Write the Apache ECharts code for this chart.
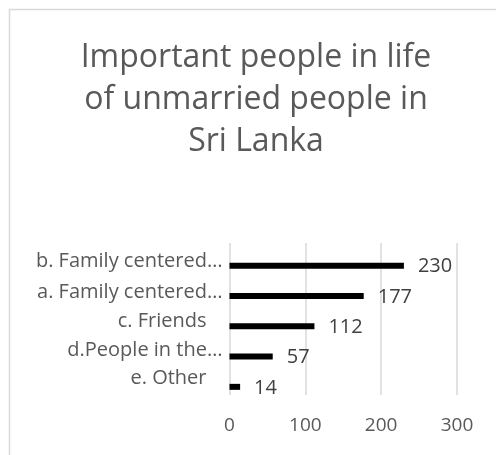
<!DOCTYPE html>
<html>
<head>
<meta charset="utf-8">
<script src="https://cdn.jsdelivr.net/npm/echarts@6/dist/echarts.min.js"></script>
<style>
  html, body { margin: 0; padding: 0; background: #ffffff; }
  #chart { width: 496px; height: 455px; }
</style>
</head>
<body>
<div id="chart"></div>
<script>
// Categories, top to bottom
const categories = [
  'b. Family centered…',
  'a. Family centered…',
  'c. Friends',
  'd.People in the…',
  'e. Other'
];
const counts = [230, 177, 112, 57, 14];
const xTicks = [0, 100, 200, 300];

const chart = echarts.init(document.getElementById('chart'), null, { renderer: 'canvas' });
const font = '"Open Sans", sans-serif';
const labelColor = '#595959';

// Per-row label styles: labels sit slightly above their bars, drifting more toward the bottom;
// untruncated names end a little further left.
const lift = [9, 8, 9, 13, 18];
const rich = {};
categories.forEach(function (c, i) {
  rich['r' + i] = {
    fontFamily: font,
    fontSize: 20,
    color: labelColor,
    padding: [0, c.endsWith('…') ? 0 : 16, lift[i], 0]
  };
});

const xRange = { min: xTicks[0], max: xTicks[xTicks.length - 1], interval: 100 };

chart.setOption({
  animation: false,
  backgroundColor: '#ffffff',
  title: {
    text: 'Important people in life\nof unmarried people in\nSri Lanka',
    left: 251,
    top: 32,
    textAlign: 'center',
    textStyle: {
      fontFamily: font,
      fontSize: 32,
      fontWeight: 'normal',
      color: labelColor,
      lineHeight: 42
    }
  },
  graphic: [{
    type: 'rect',
    shape: { x: 9.5, y: 9.5, width: 600, height: 600 },
    style: { fill: 'none', stroke: '#d9d9d9', lineWidth: 1.5 },
    silent: true
  }],
  // grid 0 carries the value gridlines and tick labels; grid 1 holds the bars
  grid: [
    { left: 229.5, right: 39, top: 243, bottom: 60, containLabel: false },
    { left: 229.5, right: 39, top: 250.5, bottom: 53, containLabel: false }
  ],
  xAxis: [{
    type: 'value',
    gridIndex: 0,
    min: xRange.min, max: xRange.max, interval: xRange.interval,
    axisLine: { show: false },
    axisTick: { show: false },
    splitLine: { show: true, lineStyle: { color: '#d9d9d9', width: 1.5 } },
    axisLabel: {
      fontFamily: font,
      fontSize: 19,
      color: labelColor,
      margin: 21
    }
  }, {
    type: 'value',
    gridIndex: 1,
    min: xRange.min, max: xRange.max, interval: xRange.interval,
    show: false
  }],
  yAxis: [{
    type: 'category',
    gridIndex: 0,
    data: categories,
    show: false
  }, {
    type: 'category',
    gridIndex: 1,
    data: categories,
    inverse: true,
    axisLine: { show: false },
    axisTick: { show: false },
    splitLine: { show: false },
    axisLabel: {
      fontFamily: font,
      fontSize: 20,
      color: labelColor,
      margin: 7,
      formatter: function (v, i) {
        return '{r' + i + '|' + v + '}';
      },
      rich: rich
    }
  }],
  series: [{
    type: 'bar',
    xAxisIndex: 1,
    yAxisIndex: 1,
    data: counts,
    barWidth: 6,
    itemStyle: { color: '#000000' },
    label: {
      show: true,
      position: 'right',
      distance: 14,
      offset: [0, 1],
      fontFamily: font,
      fontSize: 20,
      color: '#404040'
    }
  }]
});
</script>
</body>
</html>
